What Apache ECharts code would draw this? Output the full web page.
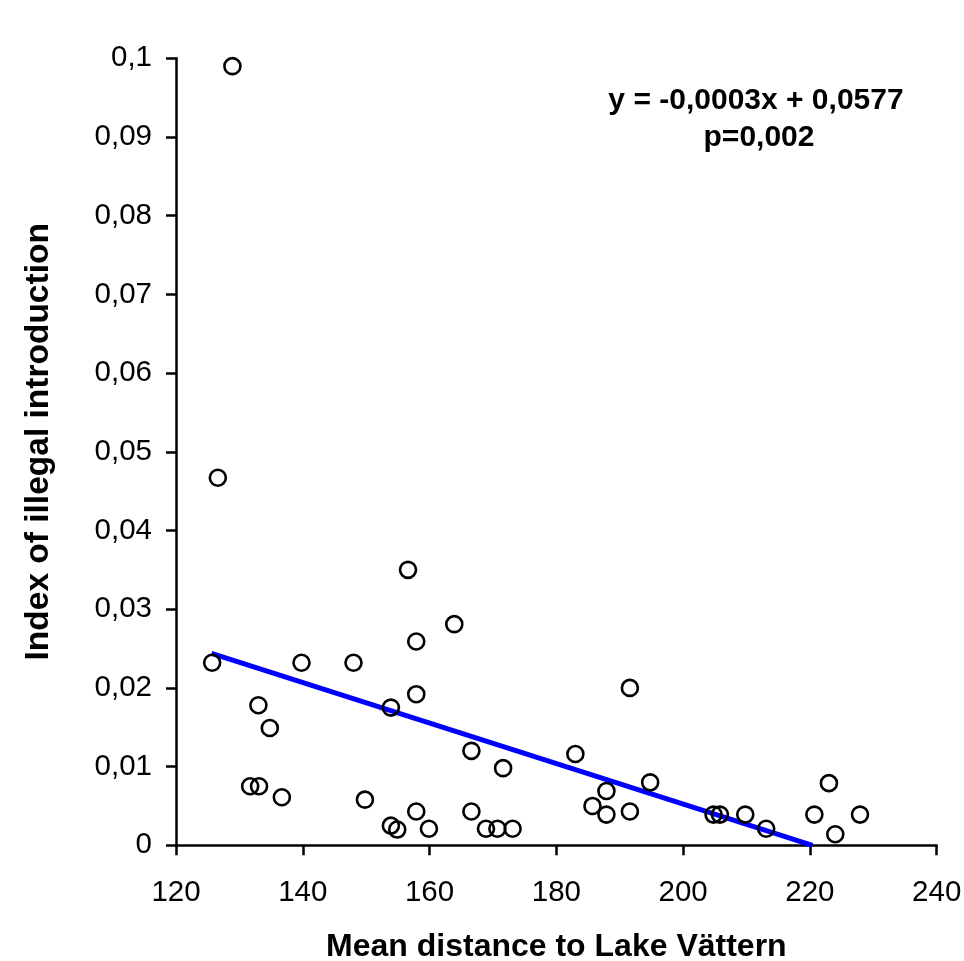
<!DOCTYPE html>
<html>
<head>
<meta charset="utf-8">
<script src="https://cdn.jsdelivr.net/npm/echarts@6/dist/echarts.min.js"></script>
<style>
  html, body { margin: 0; padding: 0; background: #fff; }
  #chart { width: 964px; height: 961px; }
</style>
</head>
<body>
<div id="chart"></div>
<script>
// ---- data ----
const distance = [
  128.9, 126.6, 125.7, 139.8, 148.0, 156.6, 157.9, 157.9, 133.0, 134.8,
  153.9, 131.7, 133.1, 136.7, 149.8, 157.9, 153.9, 154.9, 163.9, 166.6,
  171.6, 166.6, 159.9, 168.9, 170.7, 173.1, 183.0, 191.6, 187.9, 185.7,
  187.9, 191.6, 194.8, 204.8, 205.8, 209.8, 213.1, 220.7, 223.0, 224.0,
  227.9
];
const illegalIndex = [
  0.0990, 0.0467, 0.0232, 0.0232, 0.0232, 0.0350, 0.0259, 0.0192, 0.0178, 0.0149,
  0.0175, 0.0075, 0.0075, 0.0061, 0.0058, 0.0043, 0.0025, 0.0020, 0.0281, 0.0120,
  0.0098, 0.0043, 0.0021, 0.0021, 0.0021, 0.0021, 0.0116, 0.0200, 0.0069, 0.0050,
  0.0039, 0.0043, 0.0080, 0.0039, 0.0039, 0.0039, 0.0021, 0.0039, 0.0079, 0.0014,
  0.0039
];
// trend line end points as drawn in the reference
const trendX = [125.6, 220.4];
const trendY = [0.0244, 0.0];

const xTitle = 'Mean distance to Lake Vättern';
const yTitle = 'Index of illegal introduction';
const equationText = 'y = -0,0003x + 0,0577';
const pText = 'p=0,002';

const FONT = '"Liberation Sans", Arial, Helvetica, sans-serif';

const points = distance.map((x, i) => [x, illegalIndex[i]]);
const trend = trendX.map((x, i) => [x, trendY[i]]);

const chart = echarts.init(document.getElementById('chart'), null, { renderer: 'canvas' });

chart.setOption({
  animation: false,
  backgroundColor: '#ffffff',
  grid: {
    left: 176, right: 27.3, top: 58.3, bottom: 115.7,
    containLabel: false, outerBoundsMode: 'none'
  },
  xAxis: {
    type: 'value',
    min: 120, max: 240, interval: 20,
    name: xTitle,
    nameLocation: 'middle',
    nameGap: 86,
    nameTextStyle: { fontFamily: FONT, fontSize: 32, fontWeight: 'bold', color: '#000' },
    axisLine: { show: true, onZero: false, lineStyle: { color: '#000', width: 2.5 } },
    axisTick: { show: true, inside: false, length: 10, lineStyle: { color: '#000', width: 2.5 } },
    axisLabel: { margin: 33, fontFamily: FONT, fontSize: 29.5, color: '#000' },
    splitLine: { show: false }
  },
  yAxis: {
    type: 'value',
    min: 0, max: 0.1, interval: 0.01,
    name: yTitle,
    nameLocation: 'middle',
    nameRotate: 90,
    nameGap: 120,
    nameTextStyle: { fontFamily: FONT, fontSize: 33.5, fontWeight: 'bold', color: '#000',
                     padding: [0, 0, 0, 20] },
    axisLine: { show: true, onZero: false, lineStyle: { color: '#000', width: 2.5 } },
    axisTick: { show: true, inside: false, length: 10, lineStyle: { color: '#000', width: 2.5 } },
    axisLabel: {
      margin: 24, fontFamily: FONT, fontSize: 29.5, color: '#000',
      formatter: v => String(+v.toFixed(2)).replace('.', ',')
    },
    splitLine: { show: false }
  },
  series: [
    {
      type: 'line',
      data: trend,
      symbol: 'none',
      z: 2,
      lineStyle: { color: '#0000ff', width: 5 },
      silent: true
    },
    {
      type: 'scatter',
      data: points,
      symbol: 'circle',
      symbolSize: 16,
      z: 3,
      itemStyle: { color: 'rgba(255,255,255,0)', borderColor: '#000', borderWidth: 2.6, opacity: 1 }
    }
  ],
  graphic: [
    {
      type: 'text', x: 756, y: 101,
      style: { text: equationText, fontFamily: FONT, fontSize: 30, fontWeight: 'bold', fill: '#000',
               align: 'center', verticalAlign: 'middle' }
    },
    {
      type: 'text', x: 759, y: 138,
      style: { text: pText, fontFamily: FONT, fontSize: 30, fontWeight: 'bold', fill: '#000',
               align: 'center', verticalAlign: 'middle' }
    }
  ]
});
</script>
</body>
</html>
